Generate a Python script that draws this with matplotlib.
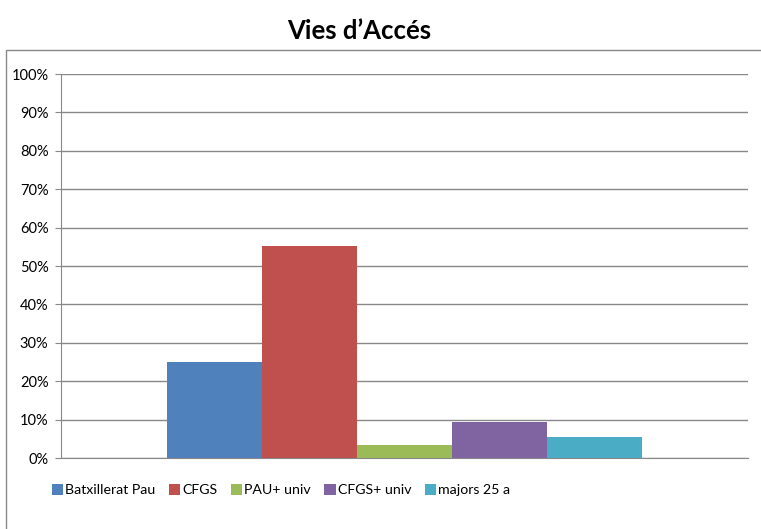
import matplotlib.pyplot as plt
from matplotlib.patches import Rectangle
from matplotlib.ticker import PercentFormatter

# ------------- Data ------------- #
title = 'Vies d\u2019Accés'
series = ['Batxillerat Pau', 'CFGS', 'PAU+ univ', 'CFGS+ univ', 'majors 25 a']
values = [25.0, 55.2, 3.4, 9.4, 5.5]
colors = ['#4f81bd', '#c0504d', '#9bbb59', '#8064a2', '#4bacc6']
yticks = list(range(0, 101, 10))

plt.rcParams['font.family'] = ['Lato', 'DejaVu Sans']

# ------------- Plot Setup ------------- #
fig = plt.figure(figsize=(7.61, 5.29), dpi=100)
ax = fig.add_axes([61 / 761, 71 / 529, 687 / 761, 384 / 529])

group = 0.69
w = group / len(series)
for i, (name, v, c) in enumerate(zip(series, values, colors)):
    ax.bar(-group / 2 + w * (i + 0.5), v, width=w, color=c, label=name, zorder=3)

ax.set_xlim(-0.5, 0.5)
ax.set_ylim(0, 100)
ax.set_yticks(yticks)
ax.yaxis.set_major_formatter(PercentFormatter(decimals=0))
ax.set_xticks([])
ax.grid(axis='y', color='#888888', linewidth=1, zorder=0)
for s in ['top', 'right']:
    ax.spines[s].set_visible(False)
ax.spines['left'].set_color('#888888')
ax.spines['bottom'].set_color('#888888')
ax.spines['bottom'].set_zorder(4)
ax.tick_params(axis='y', length=4, color='#888888', labelsize=10.5, pad=5)

fig.text(359 / 761, 1 - 31 / 529, title, ha='center', va='center',
         fontsize=18.5, fontweight='bold')

# outer chart border
fig.patches.append(Rectangle((6 / 761, -0.05), 1.0, 1 - 50 / 529 + 0.05,
                             transform=fig.transFigure, fill=False,
                             edgecolor='#888888', linewidth=1))

fig.legend(loc='center left', bbox_to_anchor=(46 / 761, 1 - 490 / 529), ncol=5,
           frameon=False, fontsize=10.2, handlelength=0.8, handleheight=0.8,
           handletextpad=0.15, columnspacing=0.95, borderaxespad=0)

plt.savefig('out.png', dpi=100)
